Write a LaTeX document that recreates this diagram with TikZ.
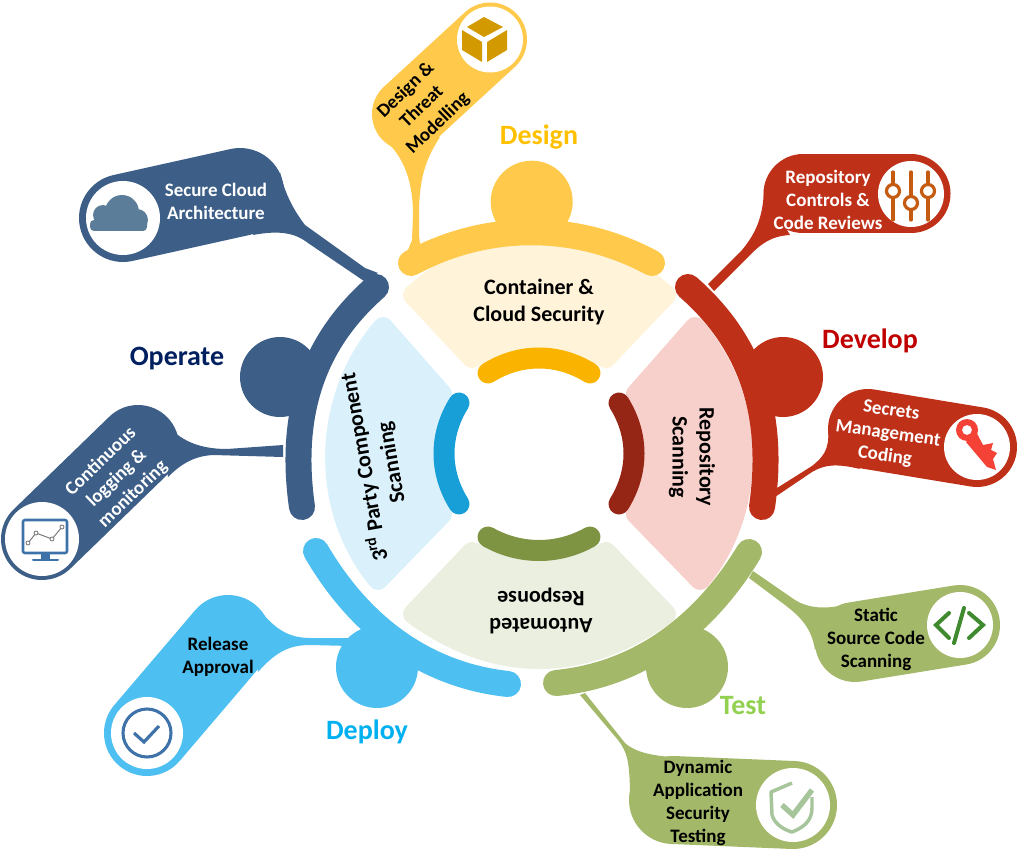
\documentclass[tikz,border=0pt]{standalone}
\usepackage{fontspec}
\setmainfont{Carlito}
\definecolor{cYel}{HTML}{FFCA4B}\definecolor{cYelD}{HTML}{FAB400}\definecolor{cYelL}{HTML}{FFF3D9}\definecolor{cBox}{HTML}{D29A00}
\definecolor{cNavy}{HTML}{3C5E87}\definecolor{cSkyL}{HTML}{DAF1FC}\definecolor{cSkyM}{HTML}{189FD8}\definecolor{cSky}{HTML}{4DBFF0}
\definecolor{cRed}{HTML}{BF3019}\definecolor{cPink}{HTML}{F8D0CB}\definecolor{cRedD}{HTML}{952515}
\definecolor{cGrn}{HTML}{A3B868}\definecolor{cOliveL}{HTML}{EBEFE0}\definecolor{cOlive}{HTML}{7E9443}
\definecolor{cMon}{HTML}{3F72A8}\definecolor{cCloud}{HTML}{5B7D99}\definecolor{cSlide}{HTML}{C55A11}\definecolor{cKey}{HTML}{F44336}
\definecolor{cCode}{HTML}{3F8A2E}\definecolor{cShield}{HTML}{A6C59A}
\definecolor{lDes}{HTML}{FFC000}\definecolor{lDev}{HTML}{C00000}\definecolor{lOpe}{HTML}{002060}\definecolor{lDep}{HTML}{00B0F0}\definecolor{lTes}{HTML}{92D050}
\tikzset{
 band/.style={line width=19.5pt,line cap=round,draw=#1},
 inner arc/.style={line width=15.75pt,line cap=round,draw=#1},
 sector/.style={draw=#1,fill=#1,line width=15pt,line join=round},
 pill/.style={line width=#1,line cap=round},
 hole/.style={fill=white,draw=none},
 phase/.style={font=\fontsize{21}{25}\selectfont\bfseries,text=#1},
 main text/.style={font=\fontsize{16.5}{20.25}\selectfont\bfseries,align=center,text=black},
 call text/.style={font=\fontsize{14.25}{17.25}\selectfont\bfseries,align=center,text=#1},
}
\begin{document}
\begin{tikzpicture}[x=0.75pt,y=-0.75pt]
\useasboundingbox (0,0) rectangle (1024,859);
% sectors
\draw[sector=cYelL] (413,295) .. controls (495,222) and (583,222) .. (666,295) -- (606,358) .. controls (578,342) and (500,342) .. (472,358) -- cycle;
\draw[sector=cOliveL] (413,614) .. controls (495,674) and (583,674) .. (666,614) -- (606,552) .. controls (578,568) and (500,568) .. (472,552) -- cycle;
\draw[sector=cPink] (695,327) .. controls (758,400) and (758,510) .. (700,580) -- (636,514) .. controls (648,490) and (648,420) .. (636,394) -- cycle;
\draw[sector=cSkyL] (383,327) .. controls (320,400) and (320,510) .. (378,580) -- (442,514) .. controls (430,490) and (430,420) .. (442,394) -- cycle;
% inner arcs
\draw[inner arc=cYelD] (488,373) .. controls (520,353) and (558,353) .. (590,373);
\draw[inner arc=cOlive] (488,537) .. controls (520,555) and (558,555) .. (590,537);
\draw[inner arc=cRedD] (619,403) .. controls (639,435) and (639,472) .. (619,504);
\draw[inner arc=cSkyM] (459,403) .. controls (439,435) and (439,472) .. (459,504);
% callouts: Design
\fill[cYel] (378,135) .. controls (400,150) and (413,175) .. (413,215) -- (412,240) -- (408,250) -- (420,244) -- (419,235) -- (419,215) .. controls (419,180) and (425,160) .. (440,137) -- cycle;
\draw[pill=55.5pt,cYel] (490,39.5) -- (409,114);
\fill[hole] (490,39.5) circle (33);
\fill[cBox] (484,17) -- (503,27) -- (484,37) -- (467,27) -- cycle;
\fill[cBox] (462,30) -- (482,42) -- (482,62) -- (462,50) -- cycle;
\fill[cBox] (507,30) -- (487,42) -- (487,62) -- (507,50) -- cycle;
% Secure cloud
\fill[cNavy] (280,172) .. controls (285,195) and (295,212) .. (305,225) -- (365,268) -- (378,273) -- (364,281) -- (308,243) .. controls (295,233) and (280,230) .. (253,235) -- cycle;
\draw[pill=66pt,cNavy] (123,218) -- (240,192);
\fill[hole] (123,218) circle (37);
\fill[cCloud] (122,212) circle (17) (103,215) circle (10) (137,220) circle (11) (96,226) circle (5);
\fill[cCloud,rounded corners=3] (90,220) rectangle (147,231);
% Continuous
\fill[cNavy] (160,416) .. controls (175,438) and (195,449) .. (227,449) -- (283,445) -- (283,457) -- (213,455) .. controls (195,456) and (182,463) .. (168,477) -- cycle;
\draw[pill=61.5pt,cNavy] (42,539) -- (138,446);
\fill[hole] (42,539) circle (37);
\draw[cMon,line width=1.9pt,rounded corners=1.5] (23,520) rectangle (67,553);
\fill[cMon] (41,553) rectangle (50,559);
\draw[cMon,line width=1.5pt,line cap=round] (33,560) -- (58,560);
\draw[black!55,line width=0.7pt] (28,543) -- (36,533) -- (52,539) -- (62,527);
\foreach \p in {(28,543),(36,533),(52,539),(62,527)} \draw[black!55,fill=white,line width=0.6pt] \p circle (2);
% Repository controls
\fill[cRed] (764,190) .. controls (763,215) and (757,232) .. (742,250) -- (708,284) -- (714,291) -- (750,255) .. controls (762,243) and (772,236) .. (790,235) -- cycle;
\draw[pill=59.25pt,cRed] (803,194) -- (911,194);
\fill[hole] (911,194) circle (33);
\draw[cSlide,line width=2.4pt,line cap=round] (893,172) -- (893,220) (911,172) -- (911,220) (928,172) -- (928,220);
\draw[cSlide,fill=white,line width=2.4pt] (893,191) circle (6.5) (911,203) circle (6.5) (928,191) circle (6.5);
% Secrets
\fill[cRed] (828,430) .. controls (830,450) and (822,458) .. (812,466) -- (777,488) -- (775,497) -- (812,472) .. controls (824,465) and (835,463) .. (860,469) -- cycle;
\draw[pill=60pt,cRed] (977,447) -- (868,429);
\fill[hole] (977,447) circle (33);
\fill[cKey] (976.7,433) -- (983,445) -- (993,443) -- (991,450) -- (997,453) -- (993,459) -- (996,470) -- (987,467) -- (966,442) -- cycle;
\fill[cKey,even odd rule] (967,430) circle (11) (967,430) circle (5);
% Static
\fill[cGrn] (848,604) .. controls (825,610) and (808,608) .. (795,600) -- (753,571) -- (749,578) -- (785,605) .. controls (805,620) and (812,632) .. (815,650) -- cycle;
\draw[pill=60pt,cGrn] (960,625) -- (855,642);
\fill[hole] (960,625) circle (33);
\draw[cCode,line width=3pt,line cap=round,line join=miter] (949,613) -- (936,625) -- (949,638) (969,613) -- (983,625) -- (969,638) (964,608) -- (954,643);
% Dynamic
\fill[cGrn] (580,695) -- (618,740) .. controls (627,752) and (630,760) .. (630,800) -- (680,790) -- (670,757) .. controls (650,755) and (635,752) .. (625,743) -- (585,693) -- cycle;
\draw[pill=66pt,cGrn] (793,805) -- (673,800);
\fill[hole] (793,805) circle (37);
\draw[cShield,line width=2.6pt,line join=round] (792,783) -- (771,792) -- (772,815) .. controls (775,825) and (785,830) .. (792,832) .. controls (802,828) and (812,822) .. (812,808) -- (812,797);
\draw[cShield,line width=4pt] (782,805) -- (793,815) -- (812,790);
% Release
\fill[cSky] (256,606) .. controls (270,622) and (282,638) .. (310,638) -- (357,638) -- (350,646) -- (310,645) .. controls (288,645) and (275,653) .. (258,672) -- cycle;
\draw[pill=64.5pt,cSky] (147,733) -- (228,638);
\fill[hole] (147,733) circle (36);
\draw[cMon,line width=2.3pt] (147,733) circle (24);
\draw[cMon,line width=2.4pt] (134,733) -- (144,742) -- (159,726);
% bands and knobs
\fill[cYel] (531.7,201.7) circle (41);
\draw[band=cYel] (411,263) .. controls (487,222) and (576,222) .. (652,263);
\fill[cRed] (783,377) circle (40);
\draw[band=cRed] (688,287) .. controls (737,330) and (778,395) .. (762,507);
\fill[cNavy] (280,377) circle (40);
\draw[band=cNavy] (376,287) .. controls (327,330) and (286,395) .. (302,507);
\fill[cGrn] (687,667) circle (41);
\draw[band=cGrn] (556,683) .. controls (640,675) and (705,625) .. (749,552);
\fill[cSky] (377,667) circle (41);
\draw[band=cSky] (508,684) .. controls (424,675) and (359,625) .. (316,551);
% phase labels
\node[phase=lDes] (lDesign) at (539,137) {Design};
\node[phase=lDev] (lDevelop) at (870,341) {Develop};
\node[phase=lOpe] (lOperate) at (177,359) {Operate};
\node[phase=lDep] (lDeploy) at (367,732) {Deploy};
\node[phase=lTes] (lTest) at (743,706) {Test};
% sector texts
\node[main text] (tC) at (539,302) {Container \&\\Cloud Security};
\node[main text,rotate=-90] (tR) at (692,457) {Repository\\Scanning};
\node[main text,rotate=180] (tA) at (541,611) {Automated\\Response};
\node[main text,rotate=100] (t3) at (377,465) {3\textsuperscript{rd} Party Component\\Scanning};
% callout texts
\node[call text=black,rotate=44] (cD) at (422,107) {Design \&\\Threat\\Modelling};
\node[call text=white] (cS) at (216,201) {Secure Cloud\\Architecture};
\node[call text=white,rotate=44] (cC) at (117,478) {Continuous\\logging \&\\monitoring};
\node[call text=white] (cR) at (828,200) {Repository\\Controls \&\\Code Reviews};
\node[call text=white,rotate=-8] (cK) at (888,434) {Secrets\\Management\\Coding};
\node[call text=black] (cSt) at (876,639) {Static\\Source Code\\Scanning};
\node[call text=black] (cDy) at (698,803) {Dynamic\\Application\\Security\\Testing};
\node[call text=black] (cRe) at (218,657) {Release\\Approval};
\end{tikzpicture}
\end{document}
